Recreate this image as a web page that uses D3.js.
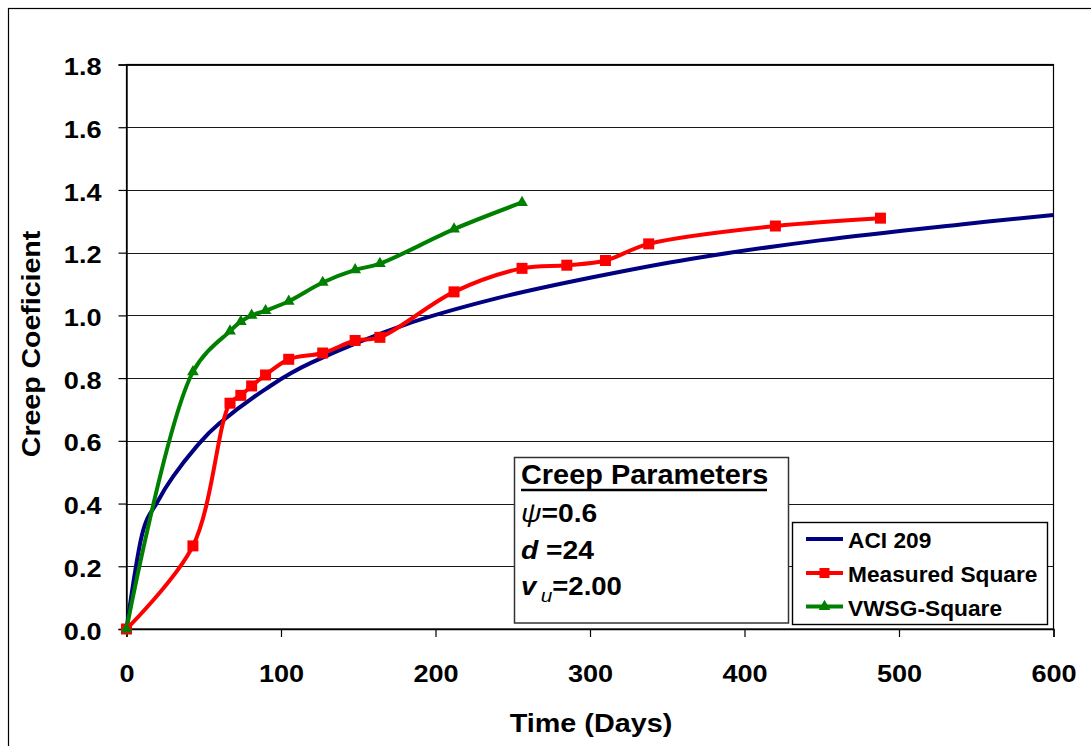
<!DOCTYPE html>
<html>
<head>
<meta charset="utf-8">
<script src="https://cdn.jsdelivr.net/npm/d3@7"></script>
<style>
  html, body { margin: 0; padding: 0; background: #fff; }
  svg text { font-family: "Liberation Sans", Arial, sans-serif; font-weight: bold; fill: #000; }
</style>
</head>
<body>
<svg id="chart" width="1091" height="746"></svg>
<script>
// Creep coefficient vs. time (days)
const aciDays   = [0, 10, 20, 30, 45, 60, 90, 120, 180, 240, 300, 365, 450, 540, 600];
const aciCreep  = [0, 0.30, 0.405, 0.485, 0.58, 0.655, 0.765, 0.85, 0.97, 1.055, 1.12, 1.18, 1.24, 1.29, 1.32];

const measDays  = [0, 43, 67, 74, 81, 90, 105, 127, 148, 164, 212, 256, 285, 310, 338, 420, 488];
const measCreep = [0, 0.265, 0.72, 0.745, 0.775, 0.81, 0.86, 0.88, 0.92, 0.93, 1.075, 1.15, 1.16, 1.175, 1.228, 1.285, 1.31];

const vwsgDays  = [0, 43, 67, 74, 81, 90, 105, 127, 148, 164, 212, 256];
const vwsgCreep = [0, 0.82, 0.95, 0.98, 1.0, 1.015, 1.045, 1.105, 1.145, 1.165, 1.275, 1.36];

const xTicks = [0, 100, 200, 300, 400, 500, 600];
const yTicks = [0, 0.2, 0.4, 0.6, 0.8, 1.0, 1.2, 1.4, 1.6, 1.8];

const seriesNames = ["ACI 209", "Measured Square", "VWSG-Square"];
const seriesColors = ["#000080", "#ff0000", "#008000"];

const svg = d3.select("#chart");

// widen glyphs horizontally around the text's anchor x
function widen(sel, k, base) {
  sel.each(function () {
    const el = d3.select(this);
    const x0 = +el.attr("x") || 0;
    const pre = base !== undefined ? base : (el.attr("transform") || "");
    el.attr("transform", `${pre} translate(${x0 * (1 - k)},0) scale(${k},1)`);
  });
}

// outer chart frame
svg.append("rect").attr("x", 8.5).attr("y", 8.5).attr("width", 1200).attr("height", 800)
  .attr("fill", "none").attr("stroke", "#000").attr("stroke-width", 1.2);

const plot = { left: 126.5, right: 1053.5, top: 64.5, bottom: 629 };
const x = d3.scaleLinear().domain([0, 600]).range([plot.left, plot.right]);
const y = d3.scaleLinear().domain([0, 1.8]).range([plot.bottom, plot.top]);

// horizontal gridlines
svg.append("g").selectAll("line").data(yTicks.slice(1)).join("line")
  .attr("x1", plot.left).attr("x2", plot.right)
  .attr("y1", d => Math.round(y(d)) + 0.5).attr("y2", d => Math.round(y(d)) + 0.5)
  .attr("stroke", "#1a1a1a").attr("stroke-width", 1.2);

// plot area border
svg.append("rect").attr("x", plot.left).attr("y", plot.top)
  .attr("width", plot.right - plot.left).attr("height", plot.bottom - plot.top)
  .attr("fill", "none").attr("stroke", "#000").attr("stroke-width", 1.2);

// axes
const yAxis = d3.axisLeft(y).tickValues(yTicks).tickFormat(d3.format(".1f")).tickSize(8).tickPadding(17);
const gy = svg.append("g").attr("transform", `translate(${plot.left},0)`).call(yAxis);
const xAxis = d3.axisBottom(x).tickValues(xTicks).tickFormat(d3.format("d")).tickSize(8).tickPadding(28);
const gx = svg.append("g").attr("transform", `translate(0,${plot.bottom})`).call(xAxis);
[gy, gx].forEach(g => {
  g.select(".domain").attr("stroke", "#000").attr("stroke-width", 1.4);
  g.selectAll(".tick line").attr("stroke", "#000").attr("stroke-width", 1.2);
  g.selectAll(".tick text").style("font-size", "24px").style("font-weight", "bold")
    .style("font-family", '"Liberation Sans", Arial, sans-serif').attr("fill", "#000");
});
gy.selectAll(".tick text").attr("dy", "0.42em");
gx.selectAll(".tick text").attr("dy", "0.71em");
widen(gy.selectAll(".tick text"), 1.13, "");
widen(gx.selectAll(".tick text"), 1.13, "");

// axis titles
const xTitle = svg.append("text").attr("x", 591).attr("y", 732).attr("text-anchor", "middle")
  .style("font-size", "25px").text("Time (Days)");
widen(xTitle, 1.15);
svg.append("text").attr("transform", "translate(40,344) rotate(-90) scale(1.14,1)").attr("text-anchor", "middle")
  .style("font-size", "25px").text("Creep Coeficient");

// series (smoothed lines through the data points)
const curves = [d3.curveCatmullRom.alpha(0), d3.curveCatmullRom.alpha(0.5), d3.curveCatmullRom.alpha(0.5)];
const series = [
  d3.zip(aciDays, aciCreep),
  d3.zip(measDays, measCreep),
  d3.zip(vwsgDays, vwsgCreep)
];
series.forEach((pts, i) => {
  const line = d3.line().x(d => x(d[0])).y(d => y(d[1])).curve(curves[i]);
  svg.append("path").datum(pts).attr("d", line)
    .attr("fill", "none").attr("stroke", seriesColors[i]).attr("stroke-width", 4)
    .attr("stroke-linejoin", "round");
});

const sq = 11;
svg.append("g").selectAll("rect").data(series[1]).join("rect")
  .attr("x", d => x(d[0]) - sq / 2).attr("y", d => y(d[1]) - sq / 2)
  .attr("width", sq).attr("height", sq).attr("fill", seriesColors[1]);

const tri = d3.symbol().type(d3.symbolTriangle).size(60);
svg.append("g").selectAll("path").data(series[2]).join("path")
  .attr("transform", d => `translate(${x(d[0])},${y(d[1])})`)
  .attr("d", tri).attr("fill", seriesColors[2]);

// parameters box
const pb = svg.append("g");
pb.append("rect").attr("x", 514.5).attr("y", 457.5).attr("width", 274).attr("height", 165.5)
  .attr("fill", "#fff").attr("stroke", "#333").attr("stroke-width", 1.5);
const pTitle = pb.append("text").attr("x", 521).attr("y", 484).style("font-size", "27px").text("Creep Parameters");
widen(pTitle, 1.07);
pb.append("line").attr("x1", 521).attr("x2", 767).attr("y1", 490).attr("y2", 490)
  .attr("stroke", "#000").attr("stroke-width", 2.6);
const t1 = pb.append("text").attr("x", 521).attr("y", 522).style("font-size", "25px");
t1.append("tspan").style("font-style", "italic").style("font-weight", "normal").text("ψ");
t1.append("tspan").text("=0.6");
const t2 = pb.append("text").attr("x", 521).attr("y", 559).style("font-size", "25px");
t2.append("tspan").style("font-style", "italic").text("d");
t2.append("tspan").text(" =24");
const t3 = pb.append("text").attr("x", 521).attr("y", 595).style("font-size", "25px");
t3.append("tspan").style("font-style", "italic").text("v");
t3.append("tspan").attr("dx", 4).attr("dy", 7).style("font-style", "italic").style("font-weight", "normal")
  .style("font-size", "19px").text("u");
t3.append("tspan").attr("dy", -7).text("=2.00");
widen(t1, 1.13);
widen(t2, 1.13);
widen(t3, 1.1);

// legend
const lg = svg.append("g");
lg.append("rect").attr("x", 792.5).attr("y", 522.5).attr("width", 255).attr("height", 102)
  .attr("fill", "#fff").attr("stroke", "#000").attr("stroke-width", 1.4);
const rowY = [539, 573, 606.5];
seriesNames.forEach((name, i) => {
  lg.append("line").attr("x1", 806).attr("x2", 843).attr("y1", rowY[i]).attr("y2", rowY[i])
    .attr("stroke", seriesColors[i]).attr("stroke-width", 4);
  if (i === 1) {
    lg.append("rect").attr("x", 824.5 - 5).attr("y", rowY[i] - 5).attr("width", 10).attr("height", 10)
      .attr("fill", seriesColors[i]);
  }
  if (i === 2) {
    lg.append("path").attr("transform", `translate(824.5,${rowY[i]})`).attr("d", tri)
      .attr("fill", seriesColors[i]);
  }
  const t = lg.append("text").attr("x", 848).attr("y", rowY[i] + 9.5).style("font-size", "22.5px").text(name);
  widen(t, 1.01);
});
</script>
</body>
</html>
